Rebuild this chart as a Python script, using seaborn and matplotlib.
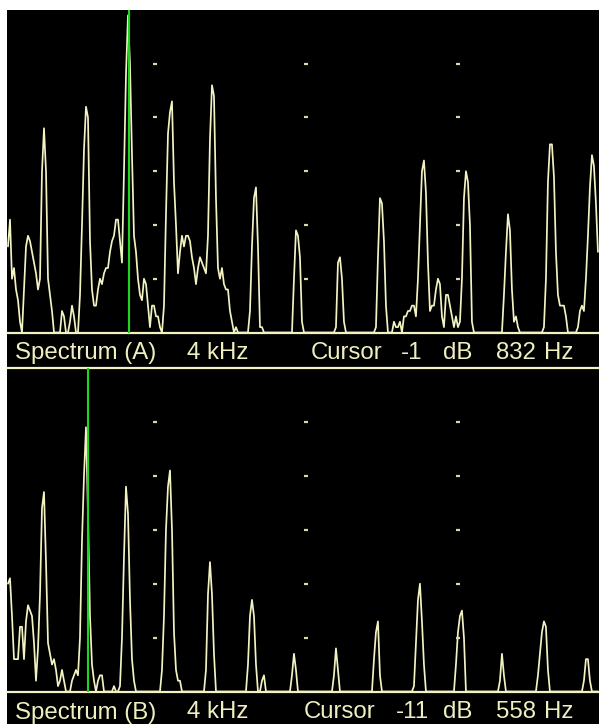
import numpy as np
import matplotlib
matplotlib.use("Agg")
import matplotlib.pyplot as plt
import seaborn as sns

# ---------------- data ----------------
F_START = 31.0      # Hz of first analysis bin
BIN_HZ = 13.2       # bin spacing in Hz
X_MIN, X_MAX = 24.4, 3932.0
DB_MIN, DB_MAX = -60, 0

levels_a = [
    -44, -39, -50, -48, -52, -54, -58, -60, -52, -44,
    -42, -43, -45, -47, -49, -52, -50, -30, -22, -30,
    -50, -53, -56, -60, -60, -60, -60, -56, -57, -60,
    -60, -58, -55, -57, -60, -60, -53, -40, -26, -18,
    -20, -43, -52, -55, -55, -52, -50, -51, -49, -48,
    -48, -45, -43, -42, -39, -39, -43, -47, -30, -12,
    -1, -10, -27, -42, -45, -50, -53, -54, -50, -51,
    -55, -59, -55, -55, -57, -57, -59, -60, -55, -38,
    -23, -19, -17, -32, -40, -49, -45, -42, -44, -42,
    -42, -43, -46, -48, -51, -48, -46, -47, -48, -49,
    -42, -24, -14, -16, -35, -48, -50, -48, -51, -52,
    -52, -56, -58, -60, -59, -60, -60, -60, -60, -60,
    -60, -56, -44, -35, -33, -44, -59, -59, -60, -60,
    -60, -60, -60, -60, -60, -60, -60, -60, -60, -60,
    -60, -60, -60, -50, -41, -42, -46, -58, -60, -60,
    -60, -60, -60, -60, -60, -60, -60, -60, -60, -60,
    -60, -60, -60, -60, -59, -47, -46, -50, -58, -60,
    -60, -60, -60, -60, -60, -60, -60, -60, -60, -60,
    -60, -60, -60, -60, -59, -46, -35, -36, -43, -55,
    -60, -60, -60, -58, -59, -59, -58, -60, -57, -57,
    -56, -56, -55, -55, -57, -50, -40, -30, -28, -34,
    -47, -56, -55, -55, -52, -50, -51, -57, -59, -53,
    -53, -55, -57, -59, -57, -59, -58, -50, -35, -30,
    -32, -40, -58, -60, -60, -60, -60, -60, -60, -60,
    -60, -60, -60, -60, -60, -60, -60, -60, -53, -45,
    -38, -41, -52, -58, -57, -59, -60, -60, -60, -60,
    -60, -60, -60, -60, -60, -60, -60, -60, -59, -50,
    -32, -25, -25, -31, -45, -53, -55, -55, -55, -57,
    -60, -60, -60, -60, -60, -59, -56, -55, -56, -50,
    -42, -33, -27, -29, -36, -45,
]

levels_b = [
    -40, -39, -46, -54, -54, -54, -48, -48, -54, -47,
    -44, -45, -46, -51, -58, -52, -42, -26, -23, -36,
    -51, -53, -55, -54, -56, -59, -58, -56, -58, -60,
    -60, -60, -58, -57, -56, -57, -50, -32, -20, -11,
    -27, -46, -55, -58, -60, -58, -57, -57, -60, -60,
    -60, -60, -60, -59, -60, -60, -59, -50, -35, -22,
    -27, -43, -54, -58, -60, -60, -60, -60, -60, -60,
    -60, -60, -60, -60, -60, -60, -60, -56, -46, -30,
    -22, -19, -30, -49, -56, -58, -58, -60, -60, -60,
    -60, -60, -60, -60, -60, -60, -60, -60, -60, -56,
    -42, -36, -42, -53, -60, -60, -60, -60, -60, -60,
    -60, -60, -60, -60, -60, -60, -60, -60, -60, -60,
    -55, -46, -43, -46, -55, -60, -60, -58, -57, -60,
    -60, -60, -60, -60, -60, -60, -60, -60, -60, -60,
    -60, -60, -57, -53, -56, -60, -60, -60, -60, -60,
    -60, -60, -60, -60, -60, -60, -60, -60, -60, -60,
    -60, -60, -60, -57, -52, -56, -60, -60, -60, -60,
    -60, -60, -60, -60, -60, -60, -60, -60, -60, -60,
    -60, -60, -60, -54, -49, -47, -57, -60, -60, -60,
    -60, -60, -60, -60, -60, -60, -60, -60, -60, -60,
    -60, -60, -60, -59, -51, -43, -40, -47, -55, -60,
    -60, -60, -60, -60, -60, -60, -60, -60, -60, -60,
    -60, -60, -60, -60, -55, -49, -46, -45, -50, -60,
    -60, -60, -60, -60, -60, -60, -60, -60, -60, -60,
    -60, -60, -60, -60, -60, -60, -58, -53, -57, -60,
    -60, -60, -60, -60, -60, -60, -60, -60, -60, -60,
    -60, -60, -60, -60, -60, -57, -53, -49, -47, -48,
    -56, -60, -60, -60, -60, -60, -60, -60, -60, -60,
    -60, -60, -60, -60, -60, -60, -60, -60, -58, -54,
    -54, -58, -60, -60, -60, -60,
]

cursor_hz = [832, 558]
cursor_db = [-1, -11]
grid_hz = [1000, 2000, 3000]
grid_db = [-10, -20, -30, -40, -50]

labels_a = ["Spectrum (A)", "4 kHz", "Cursor", "-1", "dB", "832", "Hz"]
labels_b = ["Spectrum (B)", "4 kHz", "Cursor", "-11", "dB", "558", "Hz"]

# ---------------- style ----------------
TRACE = "#f2f2c2"
DOT = "#d8d8a8"
GREEN = "#1fd61f"
TXT = "#efefc0"

sns.set_style("white")
plt.rcParams["font.family"] = ["Liberation Sans", "DejaVu Sans"]

W, H = 599, 724
fig = plt.figure(figsize=(W / 100, H / 100), dpi=100, facecolor="white")

# black screen area
bg = fig.add_axes([7 / W, 0, (W - 7) / W, (H - 10) / H])
bg.set_facecolor("black")
bg.set_xticks([]); bg.set_yticks([])
for s in bg.spines.values():
    s.set_visible(False)

panels = [
    (levels_a, cursor_hz[0], (10, 332.5), labels_a, 359.0,
     [15, 187, 310.5, 401, 442.5, 495.7, 543.5]),
    (levels_b, cursor_hz[1], (368, 691.5), labels_b, 718.5,
     [15, 187, 304, 396, 442.5, 495.7, 543.5]),
]

for levels, cur, (ytop, ybot), labels, text_base, text_x in panels:
    ax = fig.add_axes([7 / W, (H - ybot) / H, (W - 7) / W, (ybot - ytop) / H])
    ax.set_facecolor("none")
    freqs = F_START + BIN_HZ * np.arange(len(levels))
    sns.lineplot(x=freqs, y=levels, ax=ax, color=TRACE, lw=1.25,
                 estimator=None, errorbar=None, sort=False)
    # dotted graticule
    gx, gy = np.meshgrid(grid_hz, grid_db)
    ax.plot(gx.ravel(), gy.ravel(), ls="none", marker="_", ms=2.6,
            mew=1.6, color=DOT)
    # baseline (and separator for lower panel)
    ax.axhline(DB_MIN, color=TRACE, lw=1.6, clip_on=False)
    if ytop > 10:
        ax.axhline(DB_MAX, color=TRACE, lw=1.6, clip_on=False)
    # cursor
    ax.axvline(cur, color=GREEN, lw=1.5, zorder=5)
    ax.set_xlim(X_MIN, X_MAX)
    ax.set_ylim(DB_MIN, DB_MAX)
    ax.set_axis_off()
    for s, x in zip(labels, text_x):
        fig.text(x / W, (H - text_base) / H, s, color=TXT, fontsize=17.3,
                 ha="left", va="baseline")

fig.savefig("out.png", dpi=100, facecolor=fig.get_facecolor())
